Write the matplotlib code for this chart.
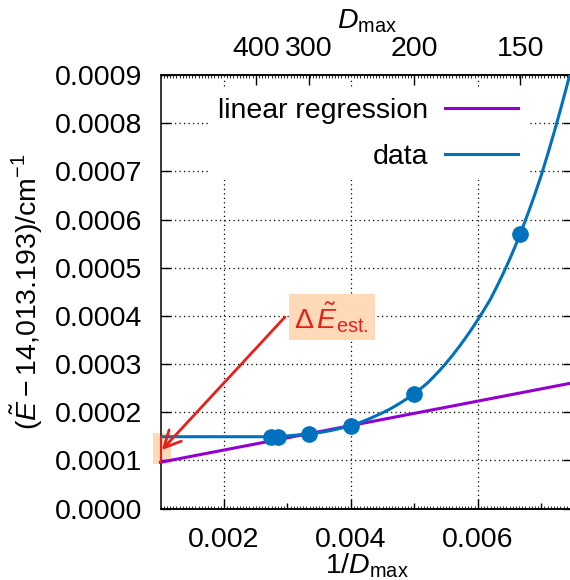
import numpy as np
import matplotlib
matplotlib.use("Agg")
import matplotlib.pyplot as plt
from matplotlib.lines import Line2D
from matplotlib.patches import Rectangle
from matplotlib.ticker import MultipleLocator, FormatStrFormatter

plt.rcParams['font.family'] = ['Liberation Sans', 'DejaVu Sans']
plt.rcParams['mathtext.fontset'] = 'custom'
plt.rcParams['mathtext.rm'] = 'Liberation Sans'
plt.rcParams['mathtext.it'] = 'Liberation Sans:italic'
plt.rcParams['mathtext.bf'] = 'Liberation Sans:bold'

# data points (D_max, energy offset)
d_max = np.array([150, 200, 250, 300, 350, 365])
e_rel = np.array([0.000569, 0.000237, 0.000172, 0.000155, 0.0001495, 0.0001490])

# smooth "data" curve (x = 1/D_max)
curve_x = [0.00100, 0.00274, 0.00287, 0.00290, 0.00300, 0.00310, 0.00320,
           0.00330, 0.00340, 0.00350, 0.00360, 0.00370, 0.00380, 0.00390,
           0.00400, 0.00410, 0.00420, 0.00430, 0.00440, 0.00450, 0.00460,
           0.00470, 0.00480, 0.00490, 0.00500, 0.00510, 0.00520, 0.00530,
           0.00540, 0.00550, 0.00560, 0.00570, 0.00580, 0.00590, 0.00600,
           0.00610, 0.00620, 0.00630, 0.00640, 0.00650, 0.00660, 0.00670,
           0.00680, 0.00690, 0.00700, 0.00710, 0.00720, 0.00730, 0.00740,
           0.00750]
curve_e = [0.0001492, 0.0001492, 0.0001500, 0.0001502, 0.0001510, 0.0001520,
           0.0001535, 0.0001545, 0.0001560, 0.0001578, 0.0001600, 0.0001625,
           0.0001655, 0.0001687, 0.0001720, 0.0001765, 0.0001815, 0.0001870,
           0.0001930, 0.0001990, 0.0002055, 0.0002130, 0.0002210, 0.0002295,
           0.0002385, 0.0002490, 0.0002600, 0.0002730, 0.0002870, 0.0003020,
           0.0003180, 0.0003350, 0.0003530, 0.0003720, 0.0003920, 0.0004130,
           0.0004350, 0.0004610, 0.0004880, 0.0005170, 0.0005480, 0.0005810,
           0.0006160, 0.0006530, 0.0006920, 0.0007350, 0.0007800, 0.0008270,
           0.0008760, 0.0009260]

# linear regression line end points
reg_x = [0.001, 0.0075]
reg_e = [0.0000962, 0.0002612]

top_ticks = [400, 300, 200, 150]

PURPLE = '#9400d3'
BLUE   = '#0072bd'
RED    = '#e8201a'
PEACH  = '#ffdab9'
FS     = 20.5

fig = plt.figure(figsize=(5.7, 5.8), dpi=100)
ax = fig.add_axes([0.2816, 0.1231, 0.7237, 0.7476])

ax.plot(reg_x, reg_e, color=PURPLE, lw=2.2, zorder=3, clip_on=False)
ax.plot(curve_x, curve_e, color=BLUE, lw=2.2, zorder=4)
ax.plot(1.0 / d_max, e_rel, 'o', color=BLUE, ms=11, zorder=5)

# delta E marker at the left edge
ax.add_patch(Rectangle((0.000877, 0.0000925), 0.000283, 0.0000637,
                       facecolor=PEACH, edgecolor='none', zorder=1,
                       clip_on=False))
ax.plot([reg_x[0], reg_x[0]], [reg_e[0], curve_e[0]], color=RED, lw=1.5,
        zorder=6, clip_on=False)
ax.annotate('', xy=(0.00102, 0.0001216), xytext=(0.00296, 0.0003975),
            arrowprops=dict(arrowstyle='->,head_length=0.8,head_width=0.4',
                            color=RED, lw=2.0, shrinkA=0, shrinkB=0,
                            mutation_scale=15), zorder=6)
ax.text(0.003695, 0.0003975, r'$\mathit{Δ}\,\tilde{E}_{\mathrm{est.}}$',
        color=RED, fontsize=FS, ha='center', va='center', zorder=6,
        bbox=dict(boxstyle='square,pad=0.2', fc=PEACH, ec='none'))

ax.set_xlim(0.001, 0.0075)
ax.set_ylim(0.0, 0.0009)

ax.xaxis.set_major_locator(MultipleLocator(0.002))
ax.xaxis.set_minor_locator(MultipleLocator(0.00005))
ax.xaxis.set_major_formatter(FormatStrFormatter('%.3f'))
ax.yaxis.set_major_locator(MultipleLocator(0.0001))
ax.yaxis.set_major_formatter(FormatStrFormatter('%.4f'))

ax.tick_params(which='major', direction='in', length=7, width=1.0,
               labelsize=FS, left=True, right=True, top=False, bottom=True)
ax.tick_params(axis='y', pad=13.5)
ax.tick_params(axis='x', pad=13.5)
ax.tick_params(which='minor', axis='x', direction='in', length=2, width=0.6,
               top=True, bottom=True)
ax.grid(True, which='major', ls=(0, (1, 2.6)), color='k', lw=0.9)

for sp in ax.spines.values():
    sp.set_linewidth(1.1)

# medium ticks at odd thousandths on the bottom axis
bot = ax.secondary_xaxis('bottom')
bot.set_xticks([0.003, 0.005, 0.007])
bot.tick_params(direction='in', length=4, width=1.0, labelbottom=False)
bot.spines['bottom'].set_linewidth(1.1)

# top axis in D_max
def inv(x):
    x = np.asarray(x, dtype=float)
    with np.errstate(divide='ignore'):
        return 1.0 / x

top = ax.secondary_xaxis('top', functions=(inv, inv))
top.set_xticks(top_ticks)
top.set_xticklabels([str(t) for t in top_ticks])
top.xaxis.set_minor_locator(plt.NullLocator())
top.tick_params(direction='in', length=7, width=1.0, labelsize=FS, pad=9)
top.set_xlabel(r'$D_{\mathrm{max}}$', fontsize=FS, labelpad=6)
top.spines['top'].set_linewidth(1.1)

ax.set_xlabel(r'$1/D_{\mathrm{max}}$', fontsize=FS)
ax.xaxis.set_label_coords(0.5, -0.10)
ax.set_ylabel(r'$(\tilde{E} - 14{,}013.193)/\mathrm{cm}^{-1}$', fontsize=FS)
ax.yaxis.set_label_coords(-0.28, 0.5)

handles = [Line2D([], [], color=PURPLE, lw=2.2), Line2D([], [], color=BLUE, lw=2.2)]
leg = ax.legend(handles, ['linear regression', 'data'], loc='upper right',
                bbox_to_anchor=(0.89, 0.970), markerfirst=False, fontsize=FS,
                handlelength=2.55, handletextpad=0.58, labelspacing=0.7,
                borderpad=0.35, borderaxespad=0, frameon=True, fancybox=False,
                framealpha=1.0, facecolor='white', edgecolor='none')

fig.savefig('out.png', dpi=100)
